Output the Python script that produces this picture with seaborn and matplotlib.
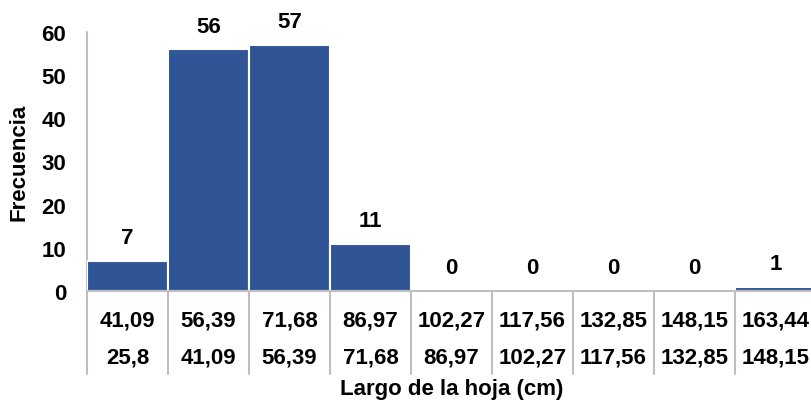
import matplotlib
matplotlib.use("Agg")
import matplotlib.pyplot as plt
import matplotlib.transforms as mtransforms
import seaborn as sns
import pandas as pd

# Frequency table of leaf length classes
upper_bounds = ["41,09", "56,39", "71,68", "86,97", "102,27", "117,56", "132,85", "148,15", "163,44"]
lower_bounds = ["25,8", "41,09", "56,39", "71,68", "86,97", "102,27", "117,56", "132,85", "148,15"]
frequencies = [7, 56, 57, 11, 0, 0, 0, 0, 1]

df = pd.DataFrame({"clase": upper_bounds, "frecuencia": frequencies})

sns.set_theme(style="white")
plt.rcParams["font.family"] = ["Liberation Sans", "DejaVu Sans"]
plt.rcParams["font.weight"] = "bold"
plt.rcParams["text.color"] = "black"
plt.rcParams["axes.labelcolor"] = "black"
plt.rcParams["ytick.color"] = "black"

BAR_COLOR = "#2F5597"
GRID_COLOR = "#BFBFBF"

fig = plt.figure(figsize=(8.12, 4.06), dpi=100)
ax = fig.add_axes([87 / 812, 1 - 292 / 406, 729 / 812, 259 / 406])

sns.barplot(data=df, x="clase", y="frecuencia", color=BAR_COLOR, width=1.0,
            edgecolor="white", linewidth=1.5, saturation=1, ax=ax)

ax.set_ylim(0, 60)
ax.set_xlim(-0.5, len(upper_bounds) - 0.5)
ax.set_yticks(range(0, 61, 10))
ax.tick_params(axis="y", length=0, pad=15, labelsize=16, labelcolor="black")
for lbl in ax.get_yticklabels():
    lbl.set_fontweight("bold")
ax.set_xticks([])
ax.set_xlabel("")
ax.set_ylabel("Frecuencia", fontsize=16, fontweight="bold", color="black")
ax.yaxis.set_label_coords((30 - 87) / 729, 0.5)

for s in ["top", "right", "left"]:
    ax.spines[s].set_visible(False)
ax.spines["bottom"].set_color(GRID_COLOR)
ax.spines["bottom"].set_linewidth(1.5)

# value labels over each bar
for i, v in enumerate(frequencies):
    ax.annotate(str(v), (i, v), xytext=(0, 9), textcoords="offset points",
                ha="center", va="bottom", fontsize=16, fontweight="bold",
                color="black")

# two-row class table under the axis
trans = mtransforms.blended_transform_factory(ax.transData, ax.transAxes)
table_bottom = -(375 - 292) / 259
for i in range(len(upper_bounds)):
    ax.text(i, -(321 - 292) / 259, upper_bounds[i], transform=trans,
            ha="center", va="center", fontsize=16, fontweight="bold", color="black")
    ax.text(i, -(358 - 292) / 259, lower_bounds[i], transform=trans,
            ha="center", va="center", fontsize=16, fontweight="bold", color="black")
for b in range(len(upper_bounds) + 1):
    x = b - 0.5
    top = 1.0 if b == 0 else 0.0
    ax.plot([x, x], [table_bottom, top], transform=trans, color=GRID_COLOR,
            lw=1.5, clip_on=False, zorder=0)

ax.text(0.5, -(390 - 292) / 259, "Largo de la hoja (cm)", transform=ax.transAxes,
        ha="center", va="center", fontsize=16, fontweight="bold", color="black")

fig.savefig("out.png", dpi=100)
